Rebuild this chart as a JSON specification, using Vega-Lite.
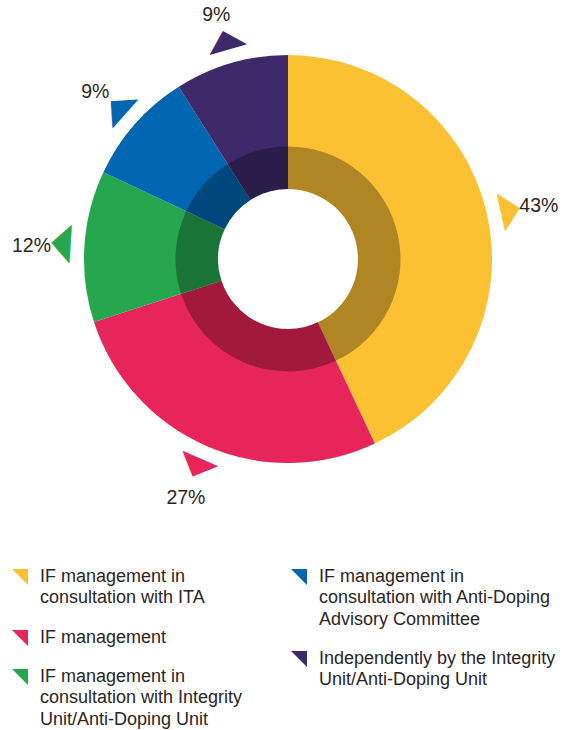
{
  "$schema": "https://vega.github.io/schema/vega-lite/v6.json",
  "width": 576,
  "height": 518,
  "padding": 0,
  "autosize": {"type": "pad"},
  "background": "white",
  "config": {
    "view": {"stroke": null},
    "legend": {
      "orient": "none",
      "columns": 1,
      "direction": "vertical",
      "title": null,
      "padding": 0,
      "symbolType": "M-1,-1L1,-1L1,1Z",
      "symbolSize": 256,
      "symbolStrokeWidth": 0,
      "symbolOpacity": 1,
      "labelFont": "Liberation Sans",
      "labelFontSize": 18,
      "labelColor": "#2a2627",
      "labelOffset": 11,
      "labelLimit": 400,
      "rowPadding": 21
    }
  },
  "data": {
    "values": [
      {"category": "IF management in|consultation with ITA", "share": 0.43, "rank": 1},
      {"category": "IF management", "share": 0.27, "rank": 2},
      {"category": "IF management in|consultation with Integrity|Unit/Anti-Doping Unit", "share": 0.12, "rank": 3},
      {"category": "IF management in|consultation with Anti-Doping|Advisory Committee", "share": 0.09, "rank": 4},
      {"category": "Independently by the Integrity|Unit/Anti-Doping Unit", "share": 0.09, "rank": 5}
    ]
  },
  "encoding": {
    "theta": {"field": "share", "type": "quantitative", "stack": true},
    "order": {"field": "rank", "type": "quantitative"}
  },
  "layer": [
    {
      "mark": {"type": "arc", "outerRadius": 204, "innerRadius": 70},
      "encoding": {
        "color": {
          "field": "category",
          "type": "nominal",
          "scale": {
            "domain": [
              "IF management in|consultation with ITA",
              "IF management",
              "IF management in|consultation with Integrity|Unit/Anti-Doping Unit",
              "IF management in|consultation with Anti-Doping|Advisory Committee",
              "Independently by the Integrity|Unit/Anti-Doping Unit"
            ],
            "range": ["#FBC133", "#E8255A", "#26A74F", "#0066B1", "#3E2A6A"]
          },
          "legend": {
            "legendX": 11,
            "legendY": 568,
            "values": [
              "IF management in|consultation with ITA",
              "IF management",
              "IF management in|consultation with Integrity|Unit/Anti-Doping Unit"
            ],
            "labelExpr": "split(datum.label, '|')",
            "encode": {"labels": {"update": {"lineHeight": {"value": 21.3}}}}
          }
        }
      }
    },
    {
      "mark": {"type": "arc", "outerRadius": 112.5, "innerRadius": 70, "color": "black", "opacity": 0.3},
      "encoding": {"detail": {"field": "category", "type": "nominal"}}
    },
    {
      "transform": [
        {"window": [{"op": "sum", "field": "share", "as": "cum"}], "sort": [{"field": "rank"}], "frame": [null, 0]},
        {"calculate": "(datum.cum - datum.share / 2) * 360 - 45", "as": "rot"}
      ],
      "mark": {"type": "text", "text": "◥", "radius": 219, "font": "DejaVu Sans", "fontSize": 36, "align": "center", "baseline": "middle"},
      "encoding": {
        "fill": {
          "field": "category",
          "type": "nominal",
          "scale": {
            "domain": [
              "IF management in|consultation with Anti-Doping|Advisory Committee",
              "Independently by the Integrity|Unit/Anti-Doping Unit",
              "IF management in|consultation with ITA",
              "IF management",
              "IF management in|consultation with Integrity|Unit/Anti-Doping Unit"
            ],
            "range": ["#0066B1", "#3E2A6A", "#FBC133", "#E8255A", "#26A74F"]
          },
          "legend": {
            "legendX": 290,
            "legendY": 568,
            "values": [
              "IF management in|consultation with Anti-Doping|Advisory Committee",
              "Independently by the Integrity|Unit/Anti-Doping Unit"
            ],
            "labelExpr": "split(datum.label, '|')",
            "encode": {"labels": {"update": {"lineHeight": {"value": 21.3}}}}
          }
        },
        "angle": {"field": "rot", "type": "quantitative", "scale": null}
      }
    },
    {
      "mark": {"type": "text", "radius": 257, "dy": 3, "font": "Liberation Sans", "fontSize": 19.5, "color": "#2a2627", "align": "center", "baseline": "middle"},
      "encoding": {
        "text": {"field": "share", "type": "quantitative", "format": ".0%"},
        "detail": {"field": "category", "type": "nominal"}
      }
    }
  ]
}
